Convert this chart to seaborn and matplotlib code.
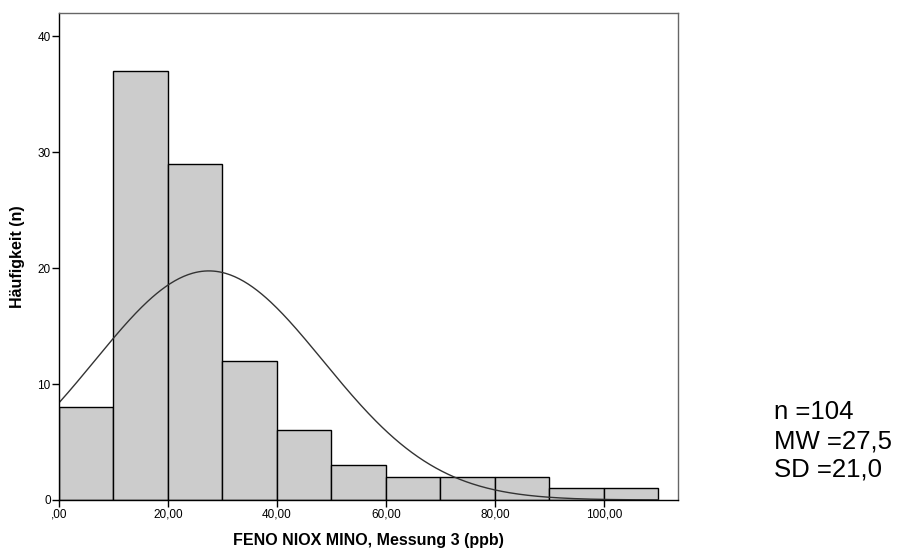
import numpy as np
import pandas as pd
import matplotlib
matplotlib.use("Agg")
import matplotlib.pyplot as plt
import seaborn as sns

bin_edges = [0, 10, 20, 30, 40, 50, 60, 70, 80, 90, 100, 110]
counts = [8, 37, 29, 12, 6, 3, 2, 2, 2, 1, 1]
n_total = 104
mean_val = 27.5
sd_val = 21.0
x_ticks = [0, 20, 40, 60, 80, 100]
x_tick_labels = [",00", "20,00", "40,00", "60,00", "80,00", "100,00"]
y_ticks = [0, 10, 20, 30, 40]
stats_lines = [f"n ={n_total}", "MW =27,5", "SD =21,0"]

sns.set_style("white")
plt.rcParams['font.family'] = ['Liberation Sans', 'DejaVu Sans']
plt.rcParams['text.color'] = 'black'
plt.rcParams['axes.labelcolor'] = 'black'
plt.rcParams['xtick.color'] = 'black'
plt.rcParams['ytick.color'] = 'black'

fig = plt.figure(figsize=(8.97, 5.51), dpi=100)
ax = fig.add_axes([59/897, 51/551, (678-59)/897, (500-13)/551])

centers = [(a + b) / 2 for a, b in zip(bin_edges[:-1], bin_edges[1:])]
df = pd.DataFrame({"x": centers, "w": counts})
sns.histplot(data=df, x="x", weights="w", bins=bin_edges, ax=ax,
             color="#cccccc", edgecolor="black", linewidth=1.0, alpha=1.0)

binw = bin_edges[1] - bin_edges[0]
xs = np.linspace(0, 110, 400)
ys = n_total * binw / (sd_val * np.sqrt(2 * np.pi)) * np.exp(-0.5 * ((xs - mean_val) / sd_val) ** 2)
sns.lineplot(x=xs, y=ys, ax=ax, color="#333333", linewidth=1.0)

ax.set_xlim(0, 113.6)
ax.set_ylim(0, 42)
ax.set_xticks(x_ticks)
ax.set_xticklabels(x_tick_labels, fontsize=8.5)
ax.set_yticks(y_ticks)
ax.set_yticklabels([str(v) for v in y_ticks], fontsize=8.5)
ax.tick_params(axis="both", direction="out", length=5, width=1, color="black", pad=1, bottom=True, left=True)
ax.set_xlabel("FENO NIOX MINO, Messung 3 (ppb)", fontsize=11.5, fontweight="bold", labelpad=9)
ax.set_ylabel("Häufigkeit (n)", fontsize=11.5, fontweight="bold", labelpad=9)

for s in ["left", "bottom"]:
    ax.spines[s].set_color("black")
    ax.spines[s].set_linewidth(1.0)
for s in ["top", "right"]:
    ax.spines[s].set_color("#666666")
    ax.spines[s].set_linewidth(1.0)

for yy, line in zip([412, 442, 470], stats_lines):
    fig.text(774/897, 1 - yy/551, line, fontsize=18.5, va="center", ha="left", color="black")

fig.savefig("out.png", dpi=100)
